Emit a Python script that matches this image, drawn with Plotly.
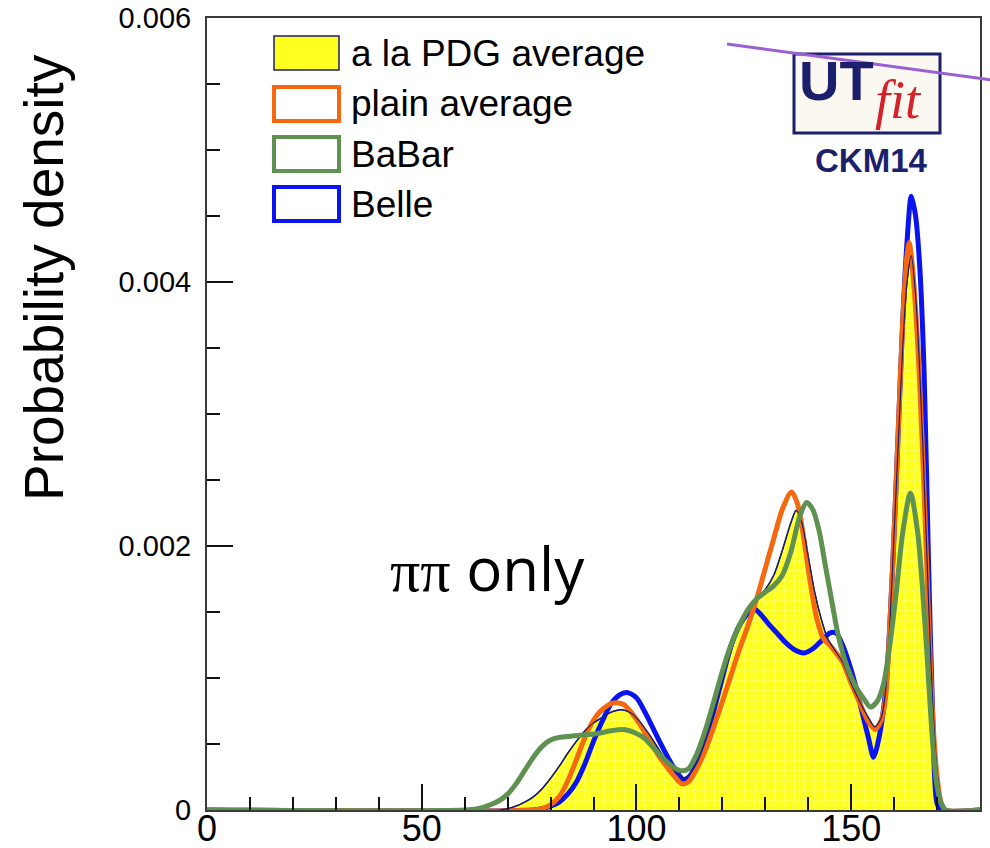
import plotly.graph_objects as go

# Posterior densities of the angle (degrees) for the four inputs
pdg_x = [0, 68, 70, 72, 74, 76, 78, 80, 82, 84, 86, 88, 90, 92, 94, 96.6, 99, 101, 103, 105, 107, 109, 110.6,
         112, 114, 116, 118, 120, 122, 124, 126, 128, 130, 132, 134, 136, 137.2, 138.5, 140, 141.5, 143, 144.5,
         146, 148, 150, 152, 154, 155.5, 157, 158, 159, 160, 161, 162, 163, 164, 165, 166, 167, 168, 169, 170,
         171, 172, 180]
pdg_y = [0, 0, 0.00001, 0.00003, 0.00006, 0.0001, 0.00016, 0.00024, 0.00033, 0.00043, 0.00052, 0.0006, 0.00066,
         0.0007, 0.00074, 0.00076, 0.00073, 0.00066, 0.00057, 0.00047, 0.00037, 0.00029, 0.00024, 0.00026,
         0.00035, 0.00052, 0.00074, 0.00098, 0.0012, 0.0014, 0.00153, 0.0016, 0.00167, 0.00178, 0.00197, 0.00218,
         0.00227, 0.00218, 0.00192, 0.00165, 0.00145, 0.0013, 0.00122, 0.00112, 0.00096, 0.00082, 0.0007,
         0.00063, 0.0007, 0.0009, 0.0014, 0.0021, 0.0028, 0.0035, 0.004, 0.0042, 0.0039, 0.0033, 0.0025, 0.0016,
         0.0008, 0.0003, 0.00008, 0, 0]

plain_x = [0, 76, 78, 80, 82, 84, 86, 88, 90, 92, 94.5, 97, 99, 101, 103, 105, 107, 109, 110.5, 112, 114, 116,
           118, 120, 122, 124, 126, 128, 130, 132, 134, 136.1, 137.5, 139, 140.5, 142, 143.5, 145, 146.5, 148,
           150, 152, 154, 155.6, 157, 158, 159, 160, 161, 162, 163, 163.5, 164, 165, 166, 167, 168, 169, 170,
           171, 172, 180]
plain_y = [0, 0, 0.00001, 0.00004, 0.0001, 0.00022, 0.00038, 0.00055, 0.00068, 0.00076, 0.00081, 0.0008,
           0.00073, 0.00064, 0.00053, 0.00042, 0.00033, 0.00025, 0.0002, 0.00021, 0.00031, 0.00045, 0.00063,
           0.00082, 0.00102, 0.00122, 0.0014, 0.0016, 0.00183, 0.00206, 0.00228, 0.00241, 0.00232, 0.00205,
           0.00172, 0.00145, 0.0013, 0.00125, 0.00119, 0.00112, 0.00096, 0.00081, 0.00067, 0.00061, 0.00068,
           0.00085, 0.0014, 0.0021, 0.0029, 0.0037, 0.0042, 0.0043, 0.0042, 0.0038, 0.0032, 0.0024, 0.0015,
           0.0007, 0.00025, 0.00005, 0, 0]

babar_x = [0, 60, 63, 66, 68, 70, 72, 74, 76, 78, 80, 82, 85, 88, 91, 94, 97, 100, 102, 104, 106, 108, 110,
           112, 114, 116, 118, 120, 122, 124, 126, 128, 130, 132, 134, 136, 138, 139.6, 141, 142.5, 144, 145.5,
           147, 149, 151, 153, 154.5, 156, 157.5, 159, 160.5, 162, 163.8, 165.5, 167, 168, 169, 170, 171, 172,
           180]
babar_y = [0, 0, 0.00001, 0.00004, 0.00007, 0.00012, 0.0002, 0.0003, 0.0004, 0.00048, 0.00053, 0.00055,
           0.00056, 0.00057, 0.00058, 0.0006, 0.00061, 0.00058, 0.00054, 0.00047, 0.0004, 0.00034, 0.0003,
           0.00031, 0.00042, 0.0006, 0.00082, 0.00105, 0.00125, 0.0014, 0.00152, 0.0016, 0.00165, 0.0017,
           0.00178, 0.00196, 0.00222, 0.00233, 0.00228, 0.00212, 0.00185, 0.00158, 0.00132, 0.00109, 0.00094,
           0.00084, 0.00078, 0.00082, 0.00095, 0.00125, 0.00165, 0.0021, 0.0024, 0.0021, 0.0015, 0.001, 0.0005,
           0.00018, 0.00005, 0, 0]

belle_x = [0, 76, 78, 80, 82, 84, 86, 88, 90, 92, 94, 96, 97.8, 100, 102, 104, 106, 108, 110, 111, 112, 114,
           116, 118, 120, 122, 124, 126, 127.5, 129, 131, 133, 135, 137, 139, 141, 143, 145, 146.5, 148, 150,
           151.5, 153, 154, 155.2, 156.5, 158, 159, 160, 161, 162, 163, 164, 165, 166, 167, 168, 169, 170, 171,
           180]
belle_y = [0, 0, 0.00001, 0.00003, 0.00006, 0.00012, 0.00021, 0.00035, 0.00052, 0.00067, 0.0008, 0.00087,
           0.00089, 0.00085, 0.00074, 0.00061, 0.00048, 0.00036, 0.00026, 0.00023, 0.00024, 0.00035, 0.00052,
           0.00075, 0.001, 0.00124, 0.0014, 0.00149, 0.00152, 0.00148, 0.0014, 0.00133, 0.00126, 0.00121,
           0.00119, 0.00122, 0.00128, 0.00134, 0.00134, 0.00125, 0.00106, 0.00088, 0.00068, 0.00055, 0.0004,
           0.00055, 0.0009, 0.0014, 0.0021, 0.0029, 0.0037, 0.0043, 0.00465, 0.0045, 0.0041, 0.0033, 0.0019,
           0.0007, 0.00005, 0, 0]

legend_labels = ["a la PDG average", "plain average", "BaBar", "Belle"]
x_ticks = [0, 50, 100, 150]
y_ticks = [0, 0.002, 0.004, 0.006]

YELLOW = "#ffff1e"
NAVY = "#1c1f6b"
ORANGE = "#f5680f"
GREEN = "#5f9150"
BLUE = "#0a14f0"

W, H = 990, 848
L, R, T, B = 207, 980, 18, 810  # plot box in pixels


def px(xp):
    return (xp - L) / (R - L)


def py(yp):
    return (B - yp) / (B - T)


fig = go.Figure()

fig.add_trace(go.Scatter(
    x=pdg_x, y=pdg_y, mode="lines", fill="tozeroy", fillcolor=YELLOW,
    fillpattern=dict(shape="+", bgcolor=YELLOW, fgcolor="#ffffb4", size=5, solidity=0.25),
    line=dict(color=NAVY, width=1.5, shape="spline", smoothing=0.8), showlegend=False))
fig.add_trace(go.Scatter(x=belle_x, y=belle_y, mode="lines",
                         line=dict(color=BLUE, width=5, shape="spline", smoothing=0.8), showlegend=False))
fig.add_trace(go.Scatter(x=plain_x, y=plain_y, mode="lines",
                         line=dict(color=ORANGE, width=5, shape="spline", smoothing=0.8), showlegend=False))
fig.add_trace(go.Scatter(x=pdg_x, y=pdg_y, mode="lines",
                         line=dict(color=NAVY, width=1.2, shape="spline", smoothing=0.8), showlegend=False))
fig.add_trace(go.Scatter(x=babar_x, y=babar_y, mode="lines",
                         line=dict(color=GREEN, width=5, shape="spline", smoothing=0.8), showlegend=False))

axis_common = dict(
    showline=True, linecolor="#3a3a3a", linewidth=2, mirror=True,
    showgrid=False, zeroline=False, automargin=False,
    ticks="inside", ticklen=26, tickwidth=2, tickcolor="#111",
    minor=dict(ticks="inside", ticklen=13, tickwidth=2, tickcolor="#111"),
)

fig.update_xaxes(range=[0, 180], tickvals=x_ticks, ticktext=[str(v) for v in x_ticks],
                 minor_dtick=10, ticklabelstandoff=-14,
                 tickfont=dict(family="Liberation Sans", size=36, color="black"), **axis_common)
fig.update_yaxes(range=[0, 0.006], tickvals=y_ticks, ticktext=["0", "0.002", "0.004", "0.006"],
                 minor_dtick=0.0005, ticklabelstandoff=8,
                 tickfont=dict(family="Liberation Sans", size=29, color="black"), **axis_common)

shapes = []
annotations = []

# y-axis title
annotations.append(dict(x=px(44), y=py(278), xref="paper", yref="paper", text="Probability density",
                        textangle=-90, showarrow=False, xanchor="center", yanchor="middle",
                        font=dict(family="Liberation Sans", size=55, color="black")))

# legend boxes and labels
legend_rows = [53, 104, 154, 204]
legend_styles = [(YELLOW, NAVY, 1.5), ("white", ORANGE, 4), ("white", GREEN, 4), ("white", BLUE, 4)]
for label, yc, (fc, lc, lw) in zip(legend_labels, legend_rows, legend_styles):
    shapes.append(dict(type="rect", xref="paper", yref="paper",
                       x0=px(274), x1=px(339), y0=py(yc + 17), y1=py(yc - 17),
                       fillcolor=fc, line=dict(color=lc, width=lw), layer="above"))
    annotations.append(dict(x=px(349), y=py(yc), xref="paper", yref="paper", text=label,
                            showarrow=False, xanchor="left", yanchor="middle",
                            font=dict(family="Liberation Sans", size=37, color="black")))

# "ππ only" label
annotations.append(dict(x=px(388), y=py(568), xref="paper", yref="paper",
                        text='<span style="font-family:Liberation Serif">ππ</span> only',
                        showarrow=False, xanchor="left", yanchor="middle",
                        font=dict(family="Open Sans", size=60, color="black")))

# UTfit logo
shapes.append(dict(type="rect", xref="paper", yref="paper",
                   x0=px(794), x1=px(940), y0=py(133), y1=py(54),
                   fillcolor="#fbf8f2", line=dict(color=NAVY, width=3), layer="above"))
annotations.append(dict(x=px(797), y=py(80), xref="paper", yref="paper", text="<b>UT</b>",
                        showarrow=False, xanchor="left", yanchor="middle",
                        font=dict(family="Liberation Sans", size=56, color=NAVY)))
annotations.append(dict(x=px(873), y=py(100), xref="paper", yref="paper", text="<i>fit</i>",
                        showarrow=False, xanchor="left", yanchor="middle",
                        font=dict(family="Liberation Serif", size=54, color="#d4222a")))
annotations.append(dict(x=px(871), y=py(160), xref="paper", yref="paper", text="<b>CKM14</b>",
                        showarrow=False, xanchor="center", yanchor="middle",
                        font=dict(family="Liberation Sans", size=33, color=NAVY)))

# purple stroke across the corner
shapes.append(dict(type="line", xref="paper", yref="paper",
                   x0=px(727), y0=py(44), x1=px(992), y1=py(80),
                   line=dict(color="#9b5fd2", width=3), layer="above"))

fig.update_layout(
    width=W, height=H,
    margin=dict(l=L, r=W - R, t=T, b=H - B, autoexpand=False),
    paper_bgcolor="white", plot_bgcolor="white",
    shapes=shapes, annotations=annotations,
    showlegend=False,
)

fig.write_html("out.html")
